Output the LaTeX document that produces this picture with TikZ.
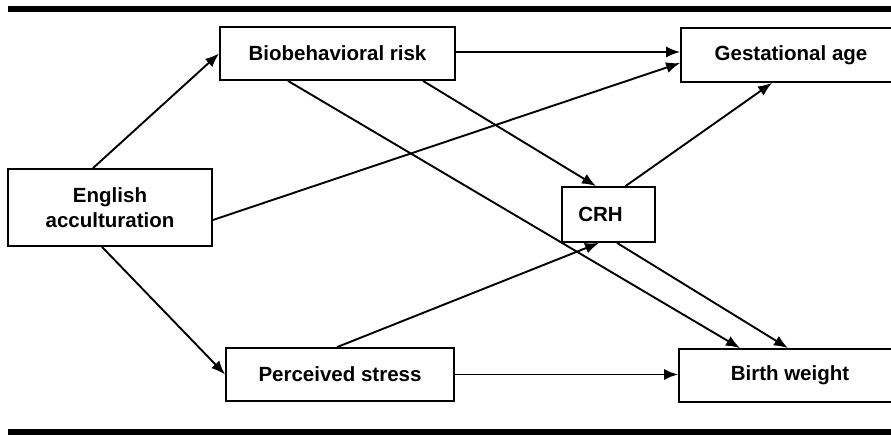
\documentclass[tikz,border=0pt]{standalone}
\usepackage{fontspec}
\setmainfont{Liberation Sans}
\usetikzlibrary{arrows.meta}
\begin{document}
\begin{tikzpicture}[x=1pt,y=-1pt,
  box/.style={draw,line width=1.8pt,inner sep=0pt,align=center,font=\fontsize{20.5}{25}\selectfont\bfseries},
  arr/.style={line width=1.9pt,-{Latex[length=14pt,width=11pt]}}]
\useasboundingbox (0,0) rectangle (891,434);
\draw[line width=6pt] (8,9)--(891,9);\draw[line width=6pt] (8,432)--(891,432);
\node[box,minimum width=204,minimum height=77] (accult) at (110,207.5) {English\\acculturation};
\node[box,minimum width=235,minimum height=53] (biorisk) at (337.5,53.5) {Biobehavioral risk};
\node[box,minimum width=220,minimum height=54] (gestage) at (791,55) {Gestational age};
\node[box,minimum width=93,minimum height=55] (crh) at (608.5,214.5) {CRH\hspace{16pt}};
\node[box,minimum width=228,minimum height=53] (stress) at (340,374.5) {Perceived stress};
\node[box,minimum width=222,minimum height=53] (birthwt) at (790,375.5) {Birth weight};
\draw[arr] ([xshift=-17pt]accult.north)--(biorisk.west);
\draw[arr] ([yshift=-12.5pt]accult.east)--([yshift=-8pt]gestage.west);
\draw[arr] ([xshift=-8pt]accult.south)--(stress.west);
\draw[arr] ([yshift=1.5pt]biorisk.east)--([yshift=1.5pt]biorisk.east -| gestage.west);
\draw[arr] ([xshift=85.5pt]biorisk.south)--([xshift=-12.5pt]crh.north);
\draw[arr] ([xshift=-49.5pt]biorisk.south)--([xshift=-50pt]birthwt.north);
\draw[arr] ([xshift=17pt]crh.north)--([xshift=-19pt]gestage.south);
\draw[arr] ([xshift=-3pt]stress.north)--([xshift=-9.5pt]crh.south);
\draw[arr] ([xshift=8.5pt]crh.south)--([xshift=-2pt]birthwt.north);
\draw[arr] (stress.east)--(stress.east -| birthwt.west);
\end{tikzpicture}
\end{document}
